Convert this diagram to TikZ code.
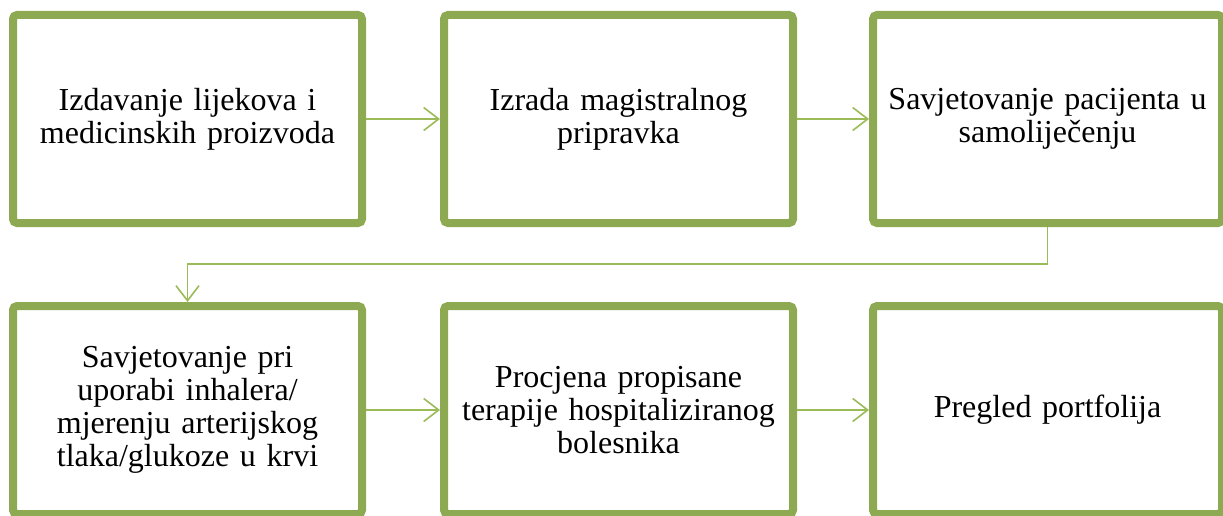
\documentclass[tikz,border=0pt]{standalone}
\usepackage{fontspec}
\setmainfont{Liberation Serif}
\usetikzlibrary{arrows.meta,shadows}
\definecolor{boxgreen}{RGB}{141,169,82}
\definecolor{arrgreen}{RGB}{155,187,89}
\begin{document}
\begin{tikzpicture}[x=1pt,y=-1pt,
  stepbox/.style={draw=boxgreen, line width=8pt, fill=white, rounded corners=4pt,
    minimum width=349pt, minimum height=208pt, text width=345pt, align=center,
    font=\fontsize{32}{33}\selectfont, inner sep=0pt,
    drop shadow={shadow xshift=2.5pt, shadow yshift=-2.5pt, opacity=0.22, fill=black}},
  arr/.style={draw=arrgreen, line width=1.6pt, -{Straight Barb[length=15pt,width=23pt,line width=1.6pt]}}]
\useasboundingbox (0,0) rectangle (1223,516);
\node[stepbox] (b1) at (187.5,119) {Izdavanje lijekova i\\medicinskih proizvoda};
\node[stepbox] (b2) at (618.5,119) {Izrada magistralnog\\pripravka};
\node[stepbox] (b3) at (1047.5,119) {Savjetovanje pacijenta u\\samoliječenju};
\node[stepbox] (b4) at (187.5,410) {Savjetovanje pri\\uporabi inhalera/\\mjerenju arterijskog\\tlaka/glukoze u krvi};
\node[stepbox] (b5) at (618.5,410) {Procjena propisane\\terapije hospitaliziranog\\bolesnika};
\node[stepbox] (b6) at (1047.5,410) {Pregled portfolija};
\coordinate (m) at (0,264);
\draw[arr] (b1.east) -- (b2.west);
\draw[arr] (b2.east) -- (b3.west);
\draw[arr] (b3.south) -- (b3.south |- m) -| (b4.north);
\draw[arr] (b4.east) -- (b5.west);
\draw[arr] (b5.east) -- (b6.west);
\end{tikzpicture}
\end{document}
